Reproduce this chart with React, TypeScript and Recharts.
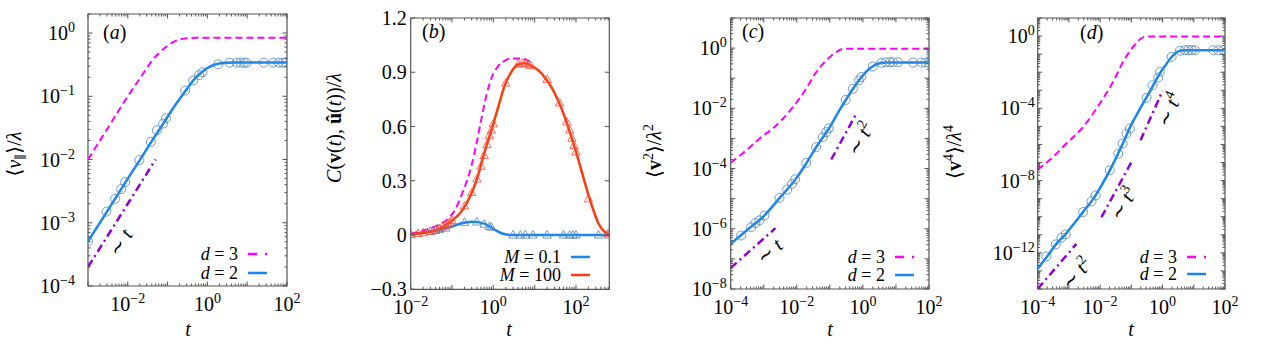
import React from "react";
import { ComposedChart, Line, Scatter, XAxis, YAxis, ReferenceArea } from "recharts";

const FONT = "'Liberation Serif', 'Times New Roman', 'DejaVu Serif', serif";
const FS = 20;
const FRAME = "#555555";
const MAGENTA = "#ff00ff";
const BLUE = "#1a86ee";
const PURPLE = "#9400d3";
const RED = "#ff3c0c";
const RING = "#4f84bb";
const RED_TRI = "#ff4a3a";
const H = 348;

// (a) <v_par>/lambda vs t
const aD3 = [[1e-3, 0.01], [3e-3, 0.03], [1e-2, 0.1], [2e-2, 0.19], [4e-2, 0.36], [6e-2, 0.48], [0.1, 0.63], [0.15, 0.74], [0.2, 0.79], [0.3, 0.83], [0.5, 0.84], [1, 0.84], [100, 0.84]];
const aD2 = [[1e-3, 5.1e-4], [3e-3, 1.5e-3], [1e-2, 5e-3], [2e-2, 0.0098], [4e-2, 0.0195], [0.08, 0.038], [0.15, 0.07], [0.3, 0.128], [0.5, 0.195], [0.75, 0.245], [1, 0.28], [1.5, 0.315], [2, 0.33], [3, 0.34], [5, 0.342], [100, 0.342]];
const aRings = [[1e-3, 5.1e-4], [2.9e-3, 1.5e-3], [4.8e-3, 2.4e-3], [6.8e-3, 3.4e-3], [8.6e-3, 4.4e-3], [0.0196, 9.8e-3], [0.038, 0.019], [0.054, 0.029], [0.077, 0.037], [0.091, 0.045], [0.276, 0.123], [0.44, 0.178], [0.62, 0.216], [0.75, 0.24], [1.86, 0.32], [3.6, 0.34], [5.4, 0.34], [6.8, 0.34], [8.3, 0.34], [9.6, 0.34], [26, 0.34], [45, 0.34], [62, 0.34], [79, 0.34], [93, 0.34]];
const aSlope = [[1e-3, 2e-4], [0.05, 0.01]];

// (b) C(v(t), u(t))/lambda vs t
const bD3 = [[0.01, 0.009], [0.022, 0.028], [0.047, 0.056], [0.082, 0.093], [0.118, 0.139], [0.171, 0.222], [0.226, 0.296], [0.3, 0.389], [0.395, 0.51], [0.52, 0.648], [0.69, 0.778], [0.91, 0.87], [1.32, 0.935], [1.91, 0.965], [2.78, 0.976], [4.4, 0.976], [6.4, 0.968], [7.5, 0.958]];
const bM100 = [[0.01, 0.004], [0.022, 0.013], [0.047, 0.033], [0.098, 0.078], [0.156, 0.12], [0.226, 0.176], [0.33, 0.256], [0.43, 0.333], [0.57, 0.435], [0.755, 0.525], [1.0, 0.615], [1.32, 0.71], [1.91, 0.83], [2.78, 0.905], [4.0, 0.944], [5.8, 0.95], [8.4, 0.935], [12.3, 0.911], [17.8, 0.87], [25.8, 0.815], [37.4, 0.741], [54.3, 0.648], [78.6, 0.537], [114, 0.417], [165, 0.287], [239, 0.167], [347, 0.065], [503, 0.015], [640, 0.004]];
const bM100Tri = [[0.01, 0.004], [0.015, 0.008], [0.02, 0.012], [0.03, 0.02], [0.04, 0.028], [0.05, 0.036], [0.06, 0.045], [0.07, 0.055], [0.08, 0.064], [0.09, 0.071], [0.1, 0.08], [0.2, 0.16], [0.3, 0.235], [0.4, 0.31], [0.5, 0.38], [0.6, 0.44], [0.7, 0.5], [0.8, 0.55], [0.9, 0.58], [1, 0.615], [2, 0.84], [4, 0.944], [5, 0.95], [6, 0.95], [7, 0.944], [8, 0.937], [20, 0.86], [40, 0.73], [60, 0.625], [70, 0.58], [80, 0.535], [90, 0.495], [100, 0.46], [200, 0.2], [600, 0.008]];
const bM01 = [[0.01, 0.004], [0.022, 0.015], [0.047, 0.028], [0.098, 0.046], [0.17, 0.065], [0.3, 0.074], [0.47, 0.07], [0.755, 0.052], [1.1, 0.028], [1.7, 0.007], [2.8, 0], [640, 0]];
const bM01Tri = [[0.01, 0.004], [0.03, 0.02], [0.04, 0.025], [0.05, 0.03], [0.07, 0.038], [0.2, 0.07], [0.4, 0.072], [0.6, 0.06], [0.8, 0.048], [0.9, 0.043], [3, 0], [4.5, 0], [6, 0], [9, 0], [20, 0], [50, 0], [70, 0], [85, 0], [100, 0], [350, 0], [600, 0]];

// (c) <v^2>/lambda^2 vs t
const cD3 = [[1e-4, 1.55e-4], [2.92e-4, 3.98e-4], [7.4e-4, 9.8e-4], [2.37e-3, 2.69e-3], [7.6e-3, 1.1e-2], [1.92e-2, 4.47e-2], [3.85e-2, 0.158], [7.76e-2, 0.389], [0.155, 0.741], [0.278, 0.955], [0.5, 0.955], [100, 0.955]];
const cD2 = [[1e-4, 3.16e-7], [3.16e-4, 9.1e-7], [1e-3, 2.63e-6], [3.16e-3, 1.12e-5], [1e-2, 5.0e-5], [2e-2, 1.58e-4], [3.98e-2, 5.4e-4], [0.1, 2.4e-3], [0.2, 9.1e-3], [0.316, 2.04e-2], [0.5, 4.47e-2], [0.794, 9.1e-2], [1.26, 0.166], [2, 0.251], [3.16, 0.316], [5, 0.331], [100, 0.331]];
const cRings = [[2.06e-4, 6.0e-7], [4.13e-4, 1.12e-6], [5.6e-4, 1.55e-6], [7.4e-4, 1.9e-6], [1.05e-3, 2.75e-6], [2.99e-3, 1.05e-5], [5.1e-3, 2.0e-5], [7.2e-3, 3.1e-5], [8.9e-3, 4.4e-5], [1.92e-2, 1.55e-4], [3.85e-2, 5.1e-4], [6.1e-2, 1.1e-3], [7.76e-2, 1.62e-3], [9.3e-2, 2.19e-3], [0.3, 1.9e-2], [0.5, 4.47e-2], [0.76, 8.5e-2], [0.89, 0.11], [2.0, 0.245], [3.6, 0.324], [4.9, 0.34], [6.5, 0.34], [8.1, 0.34], [11.5, 0.34], [33, 0.331], [59, 0.331], [79, 0.331], [100, 0.331]];
const cSlope1 = [[1e-4, 5.0e-8], [2.26e-3, 1.05e-6]];
const cSlope2 = [[0.11, 2.0e-4], [0.658, 7.1e-3]];

// (d) <v^4>/lambda^4 vs t
const dD3 = [[1e-4, 4.07e-8], [3.1e-4, 2.04e-7], [8.3e-4, 1.12e-6], [2.85e-3, 9.3e-6], [9.8e-3, 1.86e-4], [2.61e-2, 2.95e-3], [5.47e-2, 3.8e-2], [0.115, 0.257], [0.24, 0.85], [0.39, 0.955], [100, 0.955]];
const dD2 = [[1e-4, 1.32e-13], [2e-4, 6.3e-13], [3.98e-4, 3.16e-12], [7.9e-4, 1.12e-11], [1.58e-3, 5.0e-11], [3.16e-3, 2.34e-10], [6.3e-3, 1.07e-9], [1.26e-2, 7.9e-9], [2.51e-2, 7.4e-8], [5.0e-2, 8.9e-7], [0.1, 1.26e-5], [0.2, 1.12e-4], [0.398, 8.9e-4], [0.794, 7.9e-3], [1.26, 2.51e-2], [2, 7.4e-2], [3.16, 0.141], [5, 0.166], [100, 0.166]];
const dRings = [[1.9e-4, 6.3e-13], [3.8e-4, 2.95e-12], [5.75e-4, 6.9e-12], [7.9e-4, 1.05e-11], [2.85e-3, 1.82e-10], [5.3e-3, 7.1e-10], [7.2e-3, 1.51e-9], [2.04e-2, 3.7e-8], [3.8e-2, 3.1e-7], [5.25e-2, 1.12e-6], [7.0e-2, 4.0e-6], [8.9e-2, 7.6e-6], [0.307, 3.8e-4], [0.479, 1.9e-3], [0.724, 5.1e-3], [0.822, 1.05e-2], [1.95, 7.1e-2], [3.6, 0.155], [5.2, 0.166], [6.7, 0.166], [8.5, 0.166], [10.9, 0.166], [42, 0.166], [61, 0.166], [88, 0.166]];
const dSlope2 = [[1e-4, 1.02e-14], [1.74e-3, 3.16e-12]];
const dSlope3 = [[1.1e-2, 9.5e-11], [0.101, 1.07e-7]];
const dSlope4 = [[0.197, 1.7e-6], [1, 9.3e-4]];

// tick labels
const xLabA = [1e-2, 1, 1e2];
const xLabB = [1e-2, 1, 1e2];
const xLabCD = [1e-4, 1e-2, 1, 1e2];
const yLabA = [1e-4, 1e-3, 1e-2, 1e-1, 1];
const yLabB = [-0.3, 0, 0.3, 0.6, 0.9, 1.2];
const yLabC = [1e-8, 1e-6, 1e-4, 1e-2, 1];
const yLabD = [1e-12, 1e-8, 1e-4, 1];

const pts = (arr: number[][]) => arr.map(([t, v]) => ({ t, v }));

// decade + 2..9 minor tick positions between two exponents, clipped to a domain
function logTicks(e0: number, e1: number, lo: number, hi: number) {
  const out: number[] = [];
  for (let e = e0; e <= e1; e++) {
    for (let k = 1; k <= 9; k++) {
      const v = k * Math.pow(10, e);
      if (v >= lo * 0.9999 && v <= hi * 1.0001) out.push(v);
    }
  }
  return out;
}

const isDecade = (v: number) => Math.abs(Math.log10(v) - Math.round(Math.log10(v))) < 1e-6;
const hasLog = (list: number[], v: number) => list.some((l) => Math.abs(Math.log10(l) - Math.log10(v)) < 1e-6);
const hasLin = (list: number[], v: number) => list.some((l) => Math.abs(l - v) < 1e-9);

const serif = { fontFamily: FONT };

function Pow10({ v }: { v: number }) {
  const e = Math.round(Math.log10(v));
  return (
    <>
      10<tspan dy={-8} fontSize={14}>{e < 0 ? "\u2212" + -e : String(e)}</tspan>
    </>
  );
}

const linLabel = (v: number) => (Math.abs(v) < 1e-9 ? "0" : v < 0 ? "\u2212" + (-v).toFixed(1) : v.toFixed(1));

const makeXTick = (labels: number[], plotH: number) => (p: any) => {
  const { x, y, payload } = p;
  const v = payload.value as number;
  const lab = hasLog(labels, v);
  const len = lab || isDecade(v) ? 4.5 : 2.5;
  return (
    <g>
      <line x1={x} x2={x} y1={y} y2={y - len} stroke={FRAME} />
      <line x1={x} x2={x} y1={y - plotH} y2={y - plotH + len} stroke={FRAME} />
      {lab && (
        <text x={x} y={y + 25} textAnchor="middle" style={serif} fontSize={FS} fill="#000">
          <Pow10 v={v} />
        </text>
      )}
    </g>
  );
};

const makeYTick = (labels: number[], plotW: number, gap: number, log: boolean) => (p: any) => {
  const { x, y, payload } = p;
  const v = payload.value as number;
  const lab = log ? hasLog(labels, v) : hasLin(labels, v);
  const len = !log || lab || isDecade(v) ? 4.5 : 2.5;
  return (
    <g>
      <line x1={x} x2={x + len} y1={y} y2={y} stroke={FRAME} />
      <line x1={x + plotW} x2={x + plotW - len} y1={y} y2={y} stroke={FRAME} />
      {lab && (
        <text x={x - gap} y={y + 7} textAnchor="end" style={serif} fontSize={FS} fill="#000">
          {log ? <Pow10 v={v} /> : linLabel(v)}
        </text>
      )}
    </g>
  );
};

type Box = { l: number; t: number; r: number; b: number };
type PanelProps = {
  left: number;
  width: number;
  box: Box;
  xDomain: [number, number];
  yDomain: [number, number];
  xTicks: number[];
  xLabels: number[];
  yTicks: number[];
  yLabels: number[];
  yLog: boolean;
  yGap: number;
  annot: React.ReactNode;
  children: React.ReactNode;
};

function Panel(props: PanelProps) {
  const { left, width, box } = props;
  const plotW = box.r - box.l;
  const plotH = box.b - box.t;
  const margin = { top: box.t, bottom: H - box.b - 30, left: box.l - left - 60, right: left + width - box.r };
  return (
    <div style={{ position: "absolute", left, top: 0 }}>
      <ComposedChart width={width} height={H} margin={margin}>
        <XAxis
          dataKey="t"
          type="number"
          scale="log"
          domain={props.xDomain}
          allowDataOverflow
          ticks={props.xTicks}
          interval={0}
          height={30}
          axisLine={false}
          tickLine={false}
          tickSize={0}
          tickMargin={0}
          tick={makeXTick(props.xLabels, plotH)}
        />
        <YAxis
          dataKey="v"
          type="number"
          scale={props.yLog ? "log" : "linear"}
          domain={props.yDomain}
          allowDataOverflow
          ticks={props.yTicks}
          interval={0}
          width={60}
          axisLine={false}
          tickLine={false}
          tickSize={0}
          tickMargin={0}
          tick={makeYTick(props.yLabels, plotW, props.yGap, props.yLog)}
          label={{ content: () => <g transform={`translate(${-left},0)`}>{props.annot}</g> }}
        />
        <ReferenceArea
          x1={props.xDomain[0]}
          x2={props.xDomain[1]}
          y1={props.yDomain[0]}
          y2={props.yDomain[1]}
          fill="none"
          fillOpacity={0}
          stroke={FRAME}
          strokeWidth={1.2}
          ifOverflow="visible"
        />
        {props.children}
      </ComposedChart>
    </div>
  );
}

const ringShape = (p: any) => <circle cx={p.cx} cy={p.cy} r={4.5} fill="none" stroke={RING} strokeWidth={0.8} />;
const triShape = (color: string) => (p: any) => (
  <path
    d={`M${p.cx},${p.cy - 4.6}L${p.cx + 4.2},${p.cy + 3}L${p.cx - 4.2},${p.cy + 3}Z`}
    fill="none"
    stroke={color}
    strokeWidth={0.8}
  />
);

function curve(key: string, data: number[][], color: string, width: number, dash?: string) {
  return (
    <Line
      key={key}
      data={pts(data)}
      dataKey="v"
      type="monotone"
      stroke={color}
      strokeWidth={width}
      strokeDasharray={dash}
      dot={false}
      activeDot={false}
      isAnimationActive={false}
    />
  );
}

function marks(key: string, data: number[][], shape: any) {
  return <Scatter key={key} data={pts(data)} dataKey="v" shape={shape} isAnimationActive={false} />;
}

const DASH = "7 4";
const DASHDOT = "8 4 2 4";

function Tag({ x, y, ch }: { x: number; y: number; ch: string }) {
  return (
    <text x={x} y={y} style={serif} fontSize={FS} fill="#000">
      (<tspan fontStyle="italic">{ch}</tspan>)
    </text>
  );
}

function XTitle({ x }: { x: number }) {
  return (
    <text x={x} y={336} textAnchor="middle" style={serif} fontSize={FS} fill="#000" fontStyle="italic">
      t
    </text>
  );
}

function Slope({ x, y, angle, pow }: { x: number; y: number; angle: number; pow?: string }) {
  return (
    <text x={x} y={y + 6} transform={`rotate(${angle} ${x} ${y})`} textAnchor="middle" style={serif} fontSize={FS} fill="#000">
      {"\u223c "}
      <tspan fontStyle="italic">t</tspan>
      {pow && (
        <tspan dy={-8} fontSize={14}>
          {pow}
        </tspan>
      )}
    </text>
  );
}

function LegendRow({ xr, y, name, val, color, dash }: { xr: number; y: number; name: string; val: string; color: string; dash?: string }) {
  return (
    <g>
      <text x={xr} y={y + 5.5} textAnchor="end" style={serif} fontSize={18} fill="#000">
        <tspan fontStyle="italic">{name}</tspan>
        {" = " + val}
      </text>
      <line x1={xr + 10} x2={xr + 29} y1={y} y2={y} stroke={color} strokeWidth={2.5} strokeDasharray={dash} />
    </g>
  );
}

function YTitle({ x, y, children }: { x: number; y: number; children: React.ReactNode }) {
  return (
    <text x={x} y={y} transform={`rotate(-90 ${x} ${y})`} textAnchor="middle" style={serif} fontSize={FS} fill="#000">
      {children}
    </text>
  );
}

export default function App() {
  return (
    <div style={{ position: "absolute", left: 0, top: 0, width: 1284, height: H, background: "#fff" }}>
      <Panel
        left={0}
        width={320}
        box={{ l: 88, t: 14, r: 287, b: 286 }}
        xDomain={[1e-3, 100]}
        yDomain={[1e-4, 2]}
        xTicks={logTicks(-3, 2, 1e-3, 100)}
        xLabels={xLabA}
        yTicks={logTicks(-4, 0, 1e-4, 2)}
        yLabels={yLabA}
        yLog
        yGap={13}
        annot={
          <g>
            <YTitle x={21} y={154}>
              {"\u27e8"}
              <tspan fontStyle="italic">v</tspan>
              <tspan dy={4} fontSize={13}>{"\u2225"}</tspan>
              <tspan dy={-4}>{"\u27e9/"}</tspan>
              <tspan fontStyle="italic">{"\u03bb"}</tspan>
            </YTitle>
            <XTitle x={188} />
            <Tag x={103} y={39} ch="a" />
            <Slope x={121} y={243} angle={-58} />
            <LegendRow xr={238} y={254} name="d" val="3" color={MAGENTA} dash="9 8" />
            <LegendRow xr={238} y={273} name="d" val="2" color={BLUE} />
          </g>
        }
      >
        {curve("a3", aD3, MAGENTA, 2, DASH)}
        {curve("as", aSlope, PURPLE, 2.5, DASHDOT)}
        {curve("a2", aD2, BLUE, 2.5)}
        {marks("ar", aRings, ringShape)}
      </Panel>

      <Panel
        left={320}
        width={320}
        box={{ l: 410.7, t: 18, r: 609.3, b: 289.3 }}
        xDomain={[0.01, 640]}
        yDomain={[-0.3, 1.2]}
        xTicks={logTicks(-2, 2, 0.01, 640)}
        xLabels={xLabB}
        yTicks={yLabB}
        yLabels={yLabB}
        yLog={false}
        yGap={4}
        annot={
          <g>
            <YTitle x={341} y={128}>
              <tspan fontStyle="italic">C</tspan>(<tspan fontWeight="bold">v</tspan>(<tspan fontStyle="italic">t</tspan>), <tspan fontWeight="bold">{"\u00fb"}</tspan>(<tspan fontStyle="italic">t</tspan>))/<tspan fontStyle="italic">{"\u03bb"}</tspan>
            </YTitle>
            <XTitle x={509} />
            <Tag x={422} y={38} ch="b" />
            <LegendRow xr={561} y={257} name="M" val="0.1" color={BLUE} />
            <LegendRow xr={561} y={275} name="M" val="100" color={RED} />
          </g>
        }
      >
        {curve("b01", bM01, BLUE, 2.5)}
        {marks("b01t", bM01Tri, triShape(RING))}
        {curve("b3", bD3, MAGENTA, 2, DASH)}
        {curve("b100", bM100, RED, 2.5)}
        {marks("b100t", bM100Tri, triShape(RED_TRI))}
      </Panel>

      <Panel
        left={640}
        width={320}
        box={{ l: 730.7, t: 18, r: 929, b: 289 }}
        xDomain={[1e-4, 100]}
        yDomain={[1e-8, 10]}
        xTicks={logTicks(-4, 2, 1e-4, 100)}
        xLabels={xLabCD}
        yTicks={logTicks(-8, 1, 1e-8, 10)}
        yLabels={yLabC}
        yLog
        yGap={4}
        annot={
          <g>
            <YTitle x={661} y={151}>
              {"\u27e8"}
              <tspan fontWeight="bold">v</tspan>
              <tspan dy={-8} fontSize={14}>2</tspan>
              <tspan dy={8}>{"\u27e9/"}</tspan>
              <tspan fontStyle="italic">{"\u03bb"}</tspan>
              <tspan dy={-8} fontSize={14}>2</tspan>
            </YTitle>
            <XTitle x={830} />
            <Tag x={742} y={38} ch="c" />
            <Slope x={770} y={252} angle={-42} />
            <Slope x={861} y={139} angle={-61} pow="2" />
            <LegendRow xr={885} y={257} name="d" val="3" color={MAGENTA} dash="9 8" />
            <LegendRow xr={885} y={275} name="d" val="2" color={BLUE} />
          </g>
        }
      >
        {curve("c3", cD3, MAGENTA, 2, DASH)}
        {curve("cs1", cSlope1, PURPLE, 2.5, DASHDOT)}
        {curve("cs2", cSlope2, PURPLE, 2.5, DASHDOT)}
        {curve("c2", cD2, BLUE, 2.5)}
        {marks("cr", cRings, ringShape)}
      </Panel>

      <Panel
        left={940}
        width={344}
        box={{ l: 1037.7, t: 18, r: 1225, b: 289 }}
        xDomain={[1e-4, 100]}
        yDomain={[1e-14, 10]}
        xTicks={logTicks(-4, 2, 1e-4, 100)}
        xLabels={xLabCD}
        yTicks={logTicks(-14, 1, 1e-14, 10)}
        yLabels={yLabD}
        yLog
        yGap={3}
        annot={
          <g>
            <YTitle x={961} y={152}>
              {"\u27e8"}
              <tspan fontWeight="bold">v</tspan>
              <tspan dy={-8} fontSize={14}>4</tspan>
              <tspan dy={8}>{"\u27e9/"}</tspan>
              <tspan fontStyle="italic">{"\u03bb"}</tspan>
              <tspan dy={-8} fontSize={14}>4</tspan>
            </YTitle>
            <XTitle x={1131} />
            <Tag x={1080} y={39} ch="d" />
            <Slope x={1077} y={274} angle={-49} pow="2" />
            <Slope x={1124} y={204} angle={-60} pow="3" />
            <Slope x={1170} y={110} angle={-67} pow="4" />
            <LegendRow xr={1177} y={257} name="d" val="3" color={MAGENTA} dash="9 8" />
            <LegendRow xr={1177} y={274} name="d" val="2" color={BLUE} />
          </g>
        }
      >
        {curve("d3", dD3, MAGENTA, 2, DASH)}
        {curve("ds2", dSlope2, PURPLE, 2.5, DASHDOT)}
        {curve("ds3", dSlope3, PURPLE, 2.5, DASHDOT)}
        {curve("ds4", dSlope4, PURPLE, 2.5, DASHDOT)}
        {curve("d2", dD2, BLUE, 2.5)}
        {marks("dr", dRings, ringShape)}
      </Panel>
    </div>
  );
}
